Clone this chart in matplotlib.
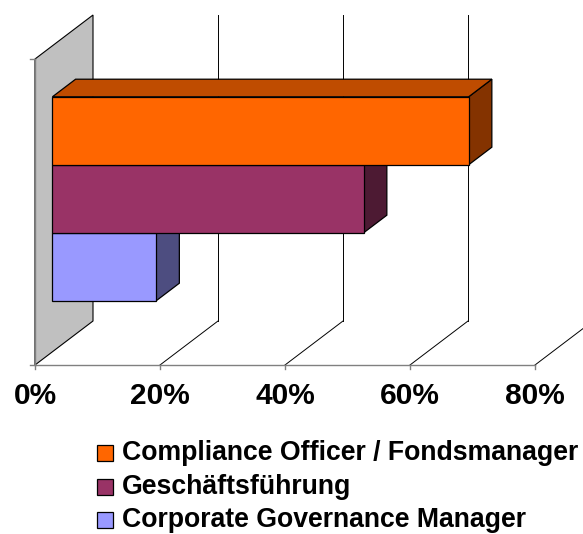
import matplotlib
matplotlib.use("Agg")
import matplotlib.pyplot as plt
from matplotlib.patches import Polygon, Rectangle

series = ["Compliance Officer / Fondsmanager", "Geschäftsführung", "Corporate Governance Manager"]
values = [66.6, 49.8, 16.6]
front_colors = ["#FF6600", "#993366", "#9999FF"]
top_colors = ["#BF4C00", "#732649", "#7373BF"]
side_colors = ["#843300", "#4D1A33", "#4D4D80"]
xticks = [0, 20, 40, 60, 80]
xticklabels = ["0%", "20%", "40%", "60%", "80%"]

plt.rcParams["font.family"] = ["Liberation Sans", "DejaVu Sans"]

W, H = 583, 534
fig = plt.figure(figsize=(W / 100, H / 100), dpi=100)
ax = fig.add_axes([0, 0, 1, 1])
ax.axis("off")

# front plane: 0% at x=35px, 6.25 px per %, floor at y=365px, top at 59px
PX = 6.25
PY = 306.0
ax.set_xlim(-35 / PX, (W - 35) / PX)
ax.set_ylim(-(H - 365) / PY, 365 / PY)

DX = 58 / PX      # depth offset, full depth
DY = 44 / PY


def p3(x, y, d):
    return (x + DX * d, y + DY * d)


# side wall
ax.add_patch(Polygon([p3(0, 0, 0), p3(0, 1, 0), p3(0, 1, 1), p3(0, 0, 1)],
                     closed=True, facecolor="#C0C0C0", edgecolor="black", lw=0.8, zorder=1))

# gridlines: floor diagonals and back vertical lines
for x in xticks[1:]:
    ax.plot(*zip(p3(x, 0, 0), p3(x, 0, 1)), color="black", lw=0.7, zorder=2)
    ax.plot(*zip(p3(x, 0, 1), p3(x, 1, 1)), color="black", lw=0.7, zorder=2)

# front axes lines and ticks
ax.plot([0, xticks[-1]], [0, 0], color="#808080", lw=1.0, zorder=3)
ax.plot([0, 0], [0, 1], color="#808080", lw=1.0, zorder=3)
for x in xticks:
    ax.plot([x, x], [0, -4 / PY], color="#808080", lw=1.0, zorder=3)
for y in [0, 1]:
    ax.plot([0, -5 / PX], [y, y], color="#808080", lw=1.0, zorder=3)
for x, lab in zip(xticks, xticklabels):
    ax.text(x, -31 / PY, lab, ha="center", va="center", fontsize=21.5, fontweight="bold")

# bars
n = len(values)
h = 2 / 9
base = 1 / 6
d0, d1 = 0.3, 0.7
for i in reversed(range(n)):
    v = values[i]
    b = base + (n - 1 - i) * h
    t = b + h
    z = 5 + (n - i) * 3
    ax.add_patch(Polygon([p3(v, b, d0), p3(v, b, d1), p3(v, t, d1), p3(v, t, d0)],
                         closed=True, facecolor=side_colors[i], edgecolor="black", lw=0.9, zorder=z))
    ax.add_patch(Polygon([p3(0, t, d0), p3(v, t, d0), p3(v, t, d1), p3(0, t, d1)],
                         closed=True, facecolor=top_colors[i], edgecolor="black", lw=0.9, zorder=z + 1))
    ax.add_patch(Polygon([p3(0, b, d0), p3(v, b, d0), p3(v, t, d0), p3(0, t, d0)],
                         closed=True, facecolor=front_colors[i], edgecolor="black", lw=0.9, zorder=z + 2))

# legend
for i, lab in enumerate(series):
    yc = 453 + i * 33.5
    fig.add_artist(Rectangle((97 / W, 1 - (yc + 8) / H), 16 / W, 16 / H, transform=fig.transFigure,
                             facecolor=front_colors[i], edgecolor="black", lw=0.9))
    fig.text(122 / W, 1 - yc / H, lab, ha="left", va="center", fontsize=19.2, fontweight="bold")

fig.savefig("out.png", dpi=100)
